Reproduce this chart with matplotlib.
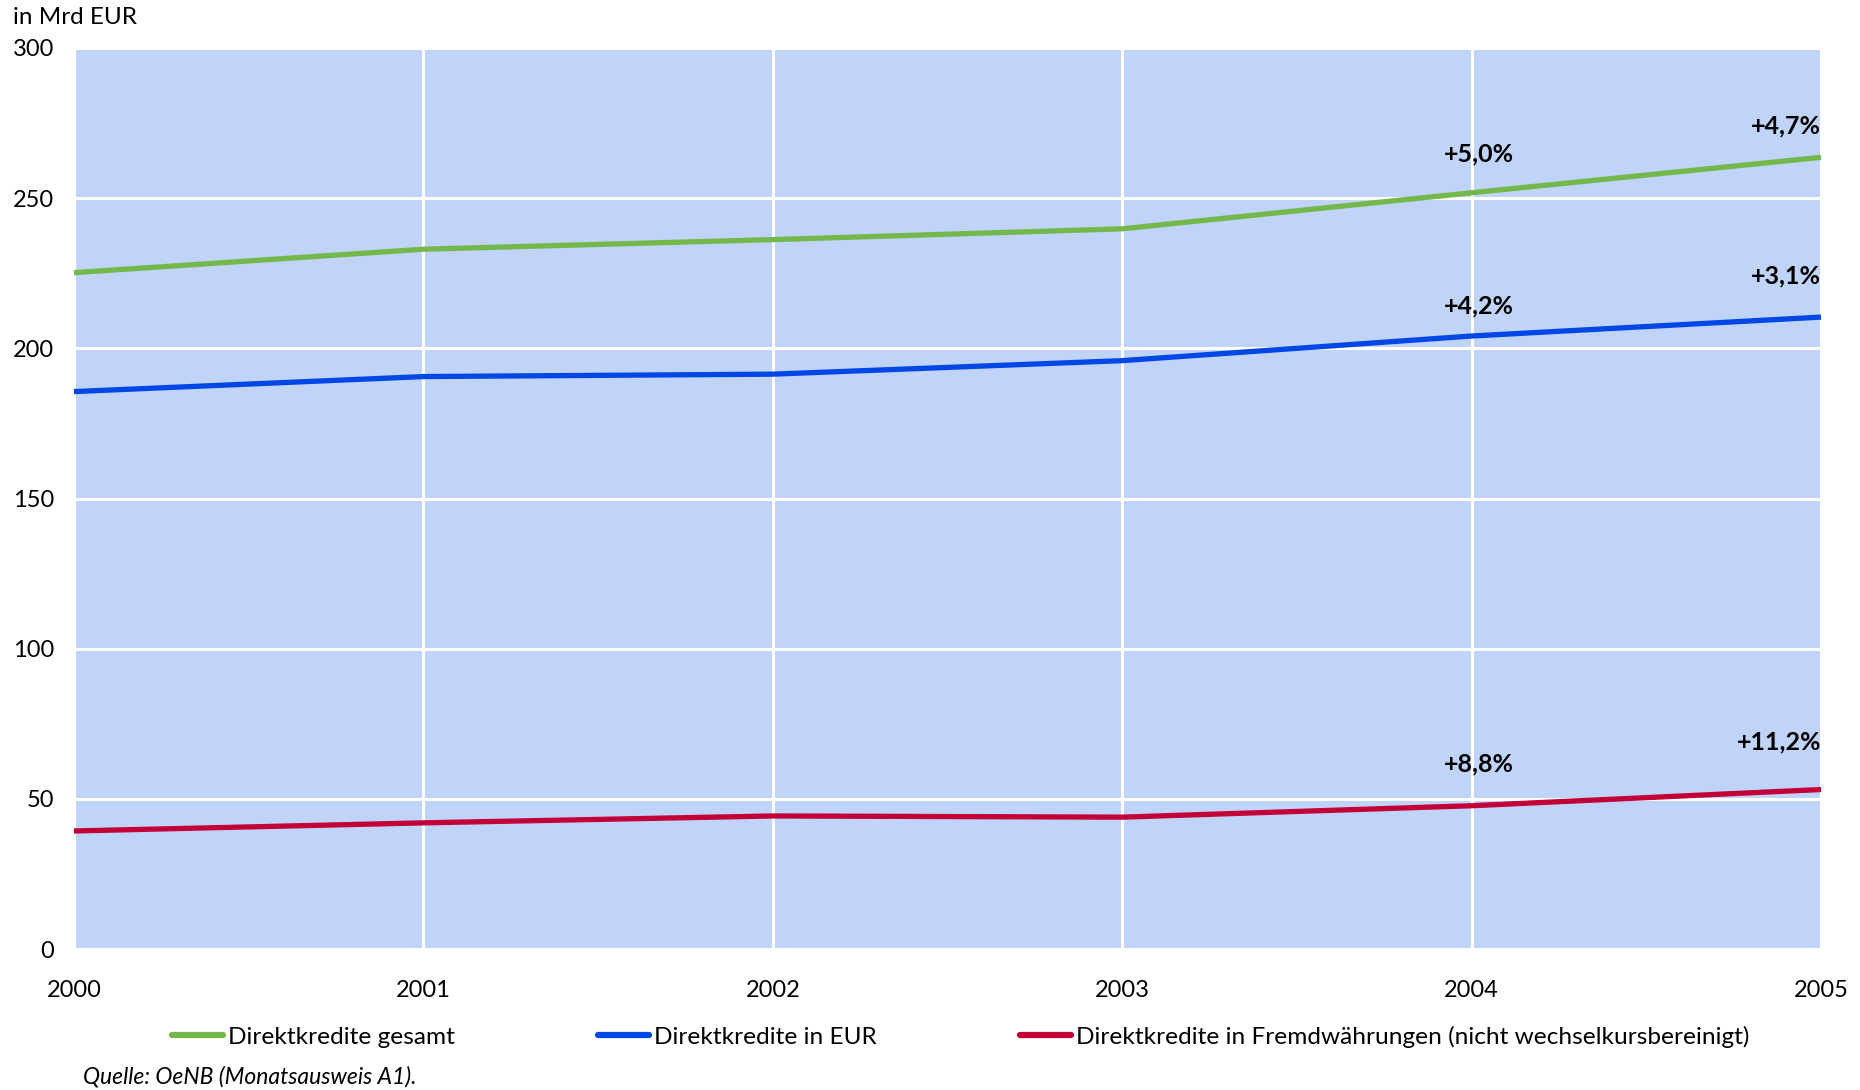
import matplotlib
matplotlib.use("Agg")
import matplotlib.pyplot as plt
from matplotlib.lines import Line2D

plt.rcParams['font.family'] = ['Lato', 'DejaVu Sans']

years = [2000, 2001, 2002, 2003, 2004, 2005]
gesamt = [225.2, 233.0, 236.2, 239.8, 251.8, 263.6]
in_eur = [185.6, 190.6, 191.4, 195.9, 204.1, 210.4]
fremd = [39.3, 42.0, 44.3, 43.9, 47.7, 53.1]

series_names = ["Direktkredite gesamt", "Direktkredite in EUR",
                "Direktkredite in Fremdwährungen (nicht wechselkursbereinigt)"]
series_colors = ["#74B84C", "#0047E6", "#C20037"]

# annotations: (x, y, text, ha)
ann_x = [2004, 2005, 2004, 2005, 2004, 2005]
ann_y = [264.6, 273.9, 214.0, 224.0, 61.5, 68.9]
ann_text = ["+5,0%", "+4,7%", "+4,2%", "+3,1%", "+8,8%", "+11,2%"]
ann_ha = ["center", "right", "center", "right", "center", "right"]

fig = plt.figure(figsize=(18.6, 10.9), dpi=100)
W, H = 1860, 1090
L, R, T, B = 74, 1821, 48, 949
ax = fig.add_axes([L / W, 1 - B / H, (R - L) / W, (B - T) / H])
ax.set_facecolor("#C0D3F8")
for s in ax.spines.values():
    s.set_visible(False)

ax.set_xlim(2000, 2005)
ax.set_ylim(0, 300)
ax.set_xticks(years)
ax.set_xticklabels([str(y) for y in years])
ax.set_yticks([0, 50, 100, 150, 200, 250, 300])
ax.grid(True, color="white", linewidth=2.2, zorder=1)
ax.set_axisbelow(True)
ax.tick_params(axis="both", length=0, labelsize=17, colors="black")
ax.tick_params(axis="y", pad=14.5)
ax.tick_params(axis="x", pad=22)

for vals, c, n in zip([gesamt, in_eur, fremd], series_colors, series_names):
    ax.plot(years, vals, color=c, linewidth=3.8, zorder=3, label=n,
            solid_capstyle="butt", clip_on=False)

for x, y, t, ha in zip(ann_x, ann_y, ann_text, ann_ha):
    ax.text(x + (0.02 if ha == "center" else 0), y, t, ha=ha, va="center",
            fontsize=18, fontweight="bold", color="black", zorder=4)

fig.text(13 / W, 1 - 18 / H, "in Mrd EUR", ha="left", va="center", fontsize=17.5)
fig.text(83 / W, 1 - 1077 / H, "Quelle: OeNB (Monatsausweis A1).", ha="left",
         va="center", fontsize=16.5, style="italic")

handles = [Line2D([], [], color=c, linewidth=4.5, solid_capstyle="round") for c in series_colors]
fig.legend(handles, series_names, loc="center left",
           bbox_to_anchor=(172 / W, 1 - 1037 / H), ncol=3, frameon=False,
           fontsize=17.6, handlelength=2.1, handletextpad=0.2,
           columnspacing=5.85, borderpad=0, borderaxespad=0)

fig.savefig("out.png", dpi=100)
